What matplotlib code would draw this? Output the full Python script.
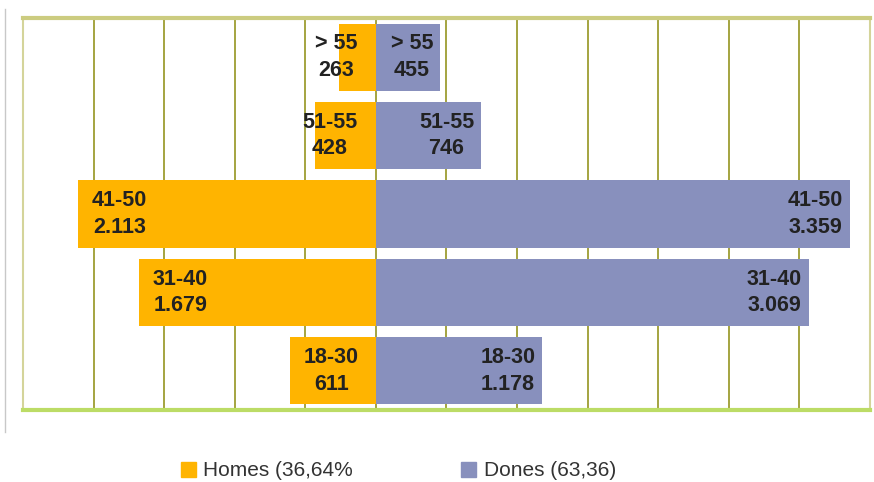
import numpy as np
import matplotlib
matplotlib.use('Agg')
from matplotlib import pyplot as plt
from matplotlib.patches import Patch
from matplotlib.lines import Line2D

plt.rcParams['font.family'] = ['Liberation Sans', 'DejaVu Sans']

# age groups, bottom to top
groups = ['18-30', '31-40', '41-50', '51-55', '> 55']
homes = [611, 1679, 2113, 428, 263]
dones = [1178, 3069, 3359, 746, 455]
legend_labels = ['Homes (36,64%', 'Dones (63,36)']

c_homes = '#FFB400'
c_dones = '#8890BD'
c_text = '#222222'

def fmt(v):
    return f'{v:,}'.replace(',', '.')

fig = plt.figure(figsize=(8.74, 4.82), dpi=100)
ax = fig.add_axes([23/874, 1-410/482, (870-23)/874, (410-18)/482])

y = np.arange(len(groups))
ax.barh(y, [-v for v in homes], height=0.855, color=c_homes, zorder=2)
ax.barh(y, dones, height=0.855, color=c_dones, zorder=2)

ax.set_xlim(-2500, 3500)
ax.set_ylim(-0.5, len(groups) - 0.5)
ax.set_xticks(np.arange(-2500, 3501, 500))
ax.set_yticks([])
ax.tick_params(axis='x', length=0, labelbottom=False)
ax.grid(axis='x', color='#a4a440', lw=1.4, zorder=1)

ax.spines['top'].set_color('#cccc80')
ax.spines['top'].set_linewidth(3)
ax.spines['bottom'].set_color('#bcdc66')
ax.spines['bottom'].set_linewidth(3)
for s in ['left', 'right']:
    ax.spines[s].set_color('#d4d49a')
    ax.spines[s].set_linewidth(1.5)

# labels
pad_h = 100
pad_d = 50
htexts = []
for yi, g, v in zip(y, groups, homes):
    t = ax.text(-v + pad_h, yi, g + '\n' + fmt(v), ha='left', va='center',
                multialignment='center', fontsize=15.5, fontweight='bold',
                color=c_text, zorder=3, linespacing=1.35)
    htexts.append(t)
for yi, g, v in zip(y, groups, dones):
    ax.text(v - pad_d, yi, g + '\n' + fmt(v), ha='right', va='center',
            multialignment='center', fontsize=15.5, fontweight='bold',
            color=c_text, zorder=3, linespacing=1.35)

# homes labels that would cross the centre are pushed back left
fig.canvas.draw()
r = fig.canvas.get_renderer()
zero_px = ax.transData.transform((0, 0))[0]
pad_px = ax.transData.transform((pad_h, 0))[0] - zero_px
for t in htexts:
    bb = t.get_window_extent(r)
    if bb.x1 > zero_px - pad_px:
        t.set_ha('right')
        t.set_x(-pad_h * 1.3)

# legend
handles = [Patch(color=c_homes), Patch(color=c_dones)]
fig.legend(handles, legend_labels, loc='center left',
           bbox_to_anchor=(181/874, 1-471/482), ncol=2, frameon=False,
           fontsize=15, handlelength=0.72, handleheight=0.72,
           handletextpad=0.35, columnspacing=5.2, borderpad=0,
           borderaxespad=0, labelcolor='#333333')

# grey rule on the left
fig.add_artist(Line2D([5/874, 5/874], [1-9/482, 1-432/482], color='#c8c8c8', lw=1))

fig.savefig('out.png', dpi=100)
